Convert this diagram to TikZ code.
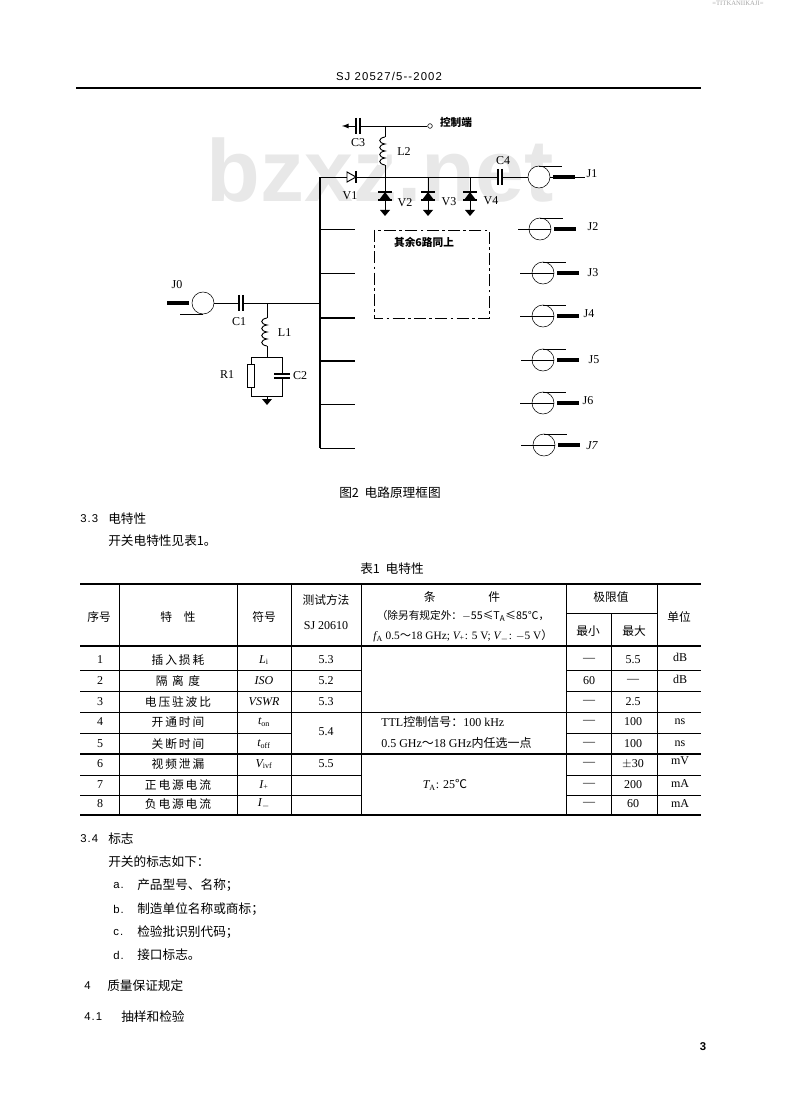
\documentclass[tikz,border=0pt]{standalone}
\usepackage{fontspec}
\setmainfont{Liberation Serif}
\newfontfamily\cjk{Noto Sans CJK SC}
\newfontfamily\cjkwide[LetterSpace=16]{Noto Sans CJK SC}
\newfontfamily\spaced[LetterSpace=10]{Liberation Sans}
\newfontfamily\wm{Liberation Sans}
\usetikzlibrary{arrows}
\tikzset{
	coax/.pic={
		\node[circle, draw, fill=white, minimum size=16.5pt, inner sep=0pt] (c) at (0,0) {};
		\draw (0,-11) -- (23,-11);
		\draw[line width=2.4pt] (14,0) -- (36,0);
		\coordinate (s) at (36,0);
	},
	capa/.pic={
		\fill[white] (-2,-8) rectangle (2,8);
		\draw[line width=.8pt] (-2,-8) -- (-2,8);
		\draw[line width=.8pt] (2,-8) -- (2,8);
	},
	capb/.pic={
		\fill[white] (-8,-2) rectangle (8,2);
		\draw[line width=.8pt] (-8,-2) -- (8,-2);
		\draw[line width=.8pt] (-8,2) -- (8,2);
	},
	coil/.pic={
		\fill[white] (-7,0) rectangle (2,28);
		\draw[line width=.7pt] (0,0) .. controls (-7,1) and (-7,6) .. (0,7) .. controls (-7,8) and (-7,13) .. (0,14) .. controls (-7,15) and (-7,20) .. (0,21) .. controls (-7,22) and (-7,27) .. (0,28);
	},
	diodev/.pic={
		\draw[line width=1.3pt] (-7,-4) -- (7,-4);
		\fill (-6,4) -- (6,4) -- (0,-4) -- cycle;
		\draw[line width=1pt] (-7,4) -- (7,4);
	},
	diodeh/.pic={
		\fill[white] (-5,-6) rectangle (5,6);
		\draw[line width=.7pt] (-5,-5) -- (4,0) -- (-5,5) -- cycle;
		\draw[line width=1pt] (4,-6) -- (4,6);
	},
	gnd/.pic={
		\fill (-5,0) -- (5,0) -- (0,6) -- cycle;
	},
	wire/.style={line width=.7pt},
	rule/.style={line width=.7pt},
	heavy/.style={line width=1.1pt},
	part/.style={font=\fontsize{9}{9}\selectfont, inner sep=0pt},
	body/.style={font=\cjk\fontsize{9.5}{11}\selectfont, anchor=west, inner sep=0pt},
	num/.style={font=\spaced\fontsize{8.5}{10}\selectfont, anchor=west, inner sep=0pt},
	zhcell/.style={font=\cjk\fontsize{8.8}{10}\selectfont, inner sep=0pt},
	widecell/.style={font=\cjkwide\fontsize{8.8}{10}\selectfont, inner sep=0pt},
	cell/.style={font=\fontsize{9}{10}\selectfont, inner sep=0pt}
}
\begin{document}
\begin{tikzpicture}[x=.75pt,y=-.75pt]
	\useasboundingbox (0,0) rectangle (800,1112);

	\node[font=\wm\bfseries\fontsize{66}{66}\selectfont, text=black!9, inner sep=0pt] (mark) at (380,170) {bzxz.net};
	\node[font=\fontsize{5}{5}\selectfont, text=black!35, inner sep=0pt] (scan) at (738,3) {=TITKANIIKAJI=};
	\node[font=\spaced\fontsize{8.5}{10}\selectfont, inner sep=0pt] (head) at (389,76) {SJ 20527/5--2002};
	\draw[heavy] (76,88) -- (701,88);

	% switch branch at the top
	\coordinate (busa) at (320,177);
	\coordinate (busb) at (320,229);
	\coordinate (busc) at (320,273);
	\coordinate (busj) at (320,303);
	\coordinate (busd) at (320,318);
	\coordinate (buse) at (320,361);
	\coordinate (busf) at (320,404);
	\coordinate (busg) at (320,448);
	\coordinate (stubb) at (355,229);
	\coordinate (stubc) at (355,273);
	\coordinate (stubd) at (355,318);
	\coordinate (stube) at (355,361);
	\coordinate (stubf) at (355,404);
	\coordinate (stubg) at (355,448);
	\coordinate (tapl) at (385,177);
	\coordinate (tapv) at (428,177);
	\coordinate (tapw) at (470,177);
	\coordinate (ctrl) at (385,126);
	\coordinate (ctrlc) at (358,126);
	\coordinate (ctrlarrow) at (342,126);
	\coordinate (gndb) at (385,210);
	\coordinate (gndc) at (428,210);
	\coordinate (gndd) at (470,210);

	\node[circle, draw, inner sep=0pt, minimum size=3.5pt] (ctrlend) at (430,126) {};
	\node[font=\cjk\bfseries\fontsize{8}{9}\selectfont, inner sep=0pt] (ctrllabel) at (456,122) {控制端};
	\draw[wire] (ctrl) -- (ctrlend);
	\draw[wire, -latex] (ctrl) -- (ctrlarrow);
	\pic at (ctrlc) {capa};
	\node[part] (C3) at (358,143) {C3};
	\draw[wire] (ctrl) -- (tapl);
	\pic at (385,137) {coil};
	\node[part] (L2) at (404,152) {L2};

	\pic (j1) at (539,177) {coax};
	\draw[wire] (busa) -- (j1c);
	\draw[wire] (j1c) -- (j1s);
	\draw[wire] (j1s) -- ++(10,0);
	\pic at (352,177) {diodeh};
	\node[part] (V1) at (350,196) {V1};
	\pic at (500,177) {capa};
	\node[part] (C4) at (503,161) {C4};
	\node[part] (J1) at (592,174) {J1};

	\draw[wire] (tapl) -- (gndb);
	\draw[wire] (tapv) -- (gndc);
	\draw[wire] (tapw) -- (gndd);
	\pic at (385,196) {diodev};
	\pic at (428,196) {diodev};
	\pic at (470,196) {diodev};
	\pic at (gndb) {gnd};
	\pic at (gndc) {gnd};
	\pic at (gndd) {gnd};
	\node[part] (V2) at (405,203) {V2};
	\node[part] (V3) at (449,202) {V3};
	\node[part] (V4) at (491,201) {V4};

	% bus and the stubs
	\draw[line width=1pt] (busa) -- (busg);
	\draw[wire] (busb) -- (stubb);
	\draw[wire] (busc) -- (stubc);
	\draw[heavy] (busd) -- (stubd);
	\draw[heavy] (buse) -- (stube);
	\draw[wire] (busf) -- (stubf);
	\draw[wire] (busg) -- (stubg);

	\draw[wire, dash pattern=on 9pt off 2.5pt on 2pt off 2.5pt] (374,230) rectangle (489,318);
	\node[font=\cjk\bfseries\fontsize{8}{9}\selectfont, inner sep=0pt] (rest) at (424,242) {其余6路同上};

	% input side
	\pic (j0) [rotate=180] at (203,303) {coax};
	\coordinate (tapa) at (267,303);
	\coordinate (rtop) at (251,357);
	\coordinate (ctop) at (282,357);
	\coordinate (rbot) at (251,396);
	\coordinate (cbot) at (282,396);
	\coordinate (mid) at (267,357);
	\coordinate (midb) at (267,396);
	\draw[wire] (j0c) -- (busj);
	\draw[wire] (tapa) -- (mid);
	\pic at (241,303) {capa};
	\pic at (267,318) {coil};
	\node[part] (J0) at (177,285) {J0};
	\node[part] (C1) at (239,322) {C1};
	\node[part] (L1) at (279,333) [right, xshift=-1pt] {L1};
	\draw[wire] (rtop) -- (ctop) -- (cbot) -- (rbot) -- (rtop);
	\node[draw, fill=white, line width=.6pt, minimum width=5.5pt, minimum height=17pt, inner sep=0pt] (R1box) at (251,376) {};
	\pic at (282,376) {capb};
	\node[part] (R1) at (227,375) {R1};
	\node[part] (C2) at (300,376) {C2};
	\pic at (267,399) {gnd};
	\draw[wire] (midb) -- ++(0,3);

	% other outputs
	\coordinate (j2in) at (518,229);
	\coordinate (j3in) at (520,273);
	\coordinate (j4in) at (520,316);
	\coordinate (j5in) at (521,360);
	\coordinate (j6in) at (520,403);
	\coordinate (j7in) at (521,445);
	\pic (j2) at (540,229) {coax};
	\pic (j3) at (543,273) {coax};
	\pic (j4) at (543,316) {coax};
	\pic (j5) at (543,360) {coax};
	\pic (j6) at (543,403) {coax};
	\pic (j7) at (544,445) {coax};
	\draw[wire] (j2in) -- (j2c.east);
	\draw[wire] (j3in) -- (j3c.east);
	\draw[wire] (j4in) -- (j4c.east);
	\draw[wire] (j5in) -- (j5c.east);
	\draw[wire] (j6in) -- (j6c.east);
	\draw[wire] (j7in) -- (j7c.east);
	\node[part] (J2) at (593,227) {J2};
	\node[part] (J3) at (593,273) {J3};
	\node[part] (J4) at (589,314) {J4};
	\node[part] (J5) at (594,360) {J5};
	\node[part] (J6) at (588,401) {J6};
	\node[part, font=\itshape\fontsize{9}{9}\selectfont] (J7) at (592,446) {J7};

	\node[body, anchor=center] (figcap) at (390,493) {图2\ \ 电路原理框图};
	\node[num] (n33) at (80,519) {3.3};
	\node[body] (t33) at (108,519) {电特性};
	\node[body] (p33) at (108,541) {开关电特性见表1。};
	\node[body, anchor=center] (tabcap) at (392,569) {表1\ \ 电特性};

	% table
	\draw[heavy] (80,584) -- (701,584);
	\draw[heavy] (80,646) -- (701,646);
	\draw[heavy] (80,815) -- (701,815);
	\draw[rule] (566,613) -- (657,613);
	\foreach \ty in {670,691,775,795} {
		\draw[rule] (80,\ty) -- (361,\ty);
		\draw[rule] (566,\ty) -- (701,\ty);
	}
	\draw[rule] (80,712) -- (701,712);
	\draw[rule] (80,733) -- (291,733);
	\draw[rule] (566,733) -- (701,733);
	\draw[heavy] (80,754) -- (701,754);
	\foreach \tx in {119,237,291,361,566,657} {
		\draw[rule] (\tx,584) -- (\tx,815);
	}
	\draw[rule] (611,613) -- (611,815);

	\node[zhcell] (hno) at (99,617) {序号};
	\node[zhcell] (hname) at (178,617) {特\quad 性};
	\node[zhcell] (hsym) at (264,617) {符号};
	\node[zhcell] (hmeth) at (326,600) {测试方法};
	\node[cell] (hstd) at (326,626) {SJ 20610};
	\node[zhcell] (hcond) at (462,597) {条\hspace{4.5em}件};
	\node[zhcell, font=\cjk\fontsize{8}{9}\selectfont] (hcondb) at (463,616) {（除另有规定外：$-$55≤{\itshape T}\textsubscript{A}≤85℃，};
	\node[cell, font=\fontsize{8.5}{9}\selectfont] (hcondc) at (463,636) {{\itshape f}\textsubscript{A} 0.5{\cjk ～}18 GHz; {\itshape V}\textsubscript{+}: 5 V; {\itshape V}\textsubscript{$-$}: $-$5 V{\cjk ）}};
	\node[zhcell] (hlimit) at (611,597) {极限值};
	\node[zhcell] (hmin) at (588,631) {最小};
	\node[zhcell] (hmax) at (634,631) {最大};
	\node[zhcell] (hunit) at (679,617) {单位};

	\foreach \n/\ty/\name/\sym/\lo/\hi in {
		1/660/插入损耗/{\itshape L}\textsubscript{i}/---/5.5,
		2/681/隔 离 度/{\itshape ISO}/60/---,
		3/702/电压驻波比/{\itshape VSWR}/---/2.5,
		4/722/开通时间/{\itshape t}\textsubscript{on}/---/100,
		5/744/关断时间/{\itshape t}\textsubscript{off}/---/100,
		6/764/视频泄漏/{\itshape V}\textsubscript{ivf}/---/$\pm$30,
		7/785/正电源电流/{\itshape I}\textsubscript{+}/---/200,
		8/804/负电源电流/{\itshape I}\textsubscript{$-$}/---/60} {
		\node[cell] (no\n) at (100,\ty) {\n};
		\node[widecell] (char\n) at (178,\ty) {\name};
		\node[cell] (sym\n) at (264,\ty) {\sym};
		\node[cell] (min\n) at (589,\ty) {\lo};
		\node[cell] (max\n) at (633,\ty) {\hi};
	}
	\node[cell] (meth1) at (326,660) {5.3};
	\node[cell] (meth2) at (326,681) {5.2};
	\node[cell] (meth3) at (326,702) {5.3};
	\node[cell] (meth4) at (326,732) {5.4};
	\node[cell] (meth6) at (326,764) {5.5};
	\node[cell] (unit1) at (680,657) {dB};
	\node[cell] (unit2) at (680,679) {dB};
	\node[cell] (unit4) at (680,722) {ns};
	\node[cell] (unit5) at (680,744) {ns};
	\node[cell] (unit6) at (680,761) {mV};
	\node[cell] (unit7) at (680,784) {mA};
	\node[cell] (unit8) at (680,804) {mA};
	\node[cell, anchor=west] (condb) at (381,722) {TTL{\cjk 控制信号：}100 kHz};
	\node[cell, anchor=west] (condc) at (381,743) {0.5 GHz{\cjk ～}18 GHz{\cjk 内任选一点}};
	\node[cell] (condd) at (445,785) {{\itshape T}\textsubscript{A}: 25{\cjk ℃}};

	\node[num] (n34) at (80,839) {3.4};
	\node[body] (t34) at (108,839) {标志};
	\node[body] (p34) at (108,862) {开关的标志如下：};
	\node[num] (ia) at (113,885) {a.};
	\node[body] (ta) at (137,885) {产品型号、名称；};
	\node[num] (ib) at (113,909) {b.};
	\node[body] (tb) at (137,909) {制造单位名称或商标；};
	\node[num] (ic) at (113,932) {c.};
	\node[body] (tc) at (137,932) {检验批识别代码；};
	\node[num] (id) at (113,955) {d.};
	\node[body] (td) at (137,955) {接口标志。};
	\node[num] (n4) at (84,986) {4};
	\node[body] (t4) at (107,986) {质量保证规定};
	\node[num] (n41) at (84,1017) {4.1};
	\node[body] (t41) at (121,1017) {抽样和检验};
	\node[font=\spaced\bfseries\fontsize{8.5}{10}\selectfont, inner sep=0pt] (page) at (703,1047) {3};
\end{tikzpicture}
\end{document}
